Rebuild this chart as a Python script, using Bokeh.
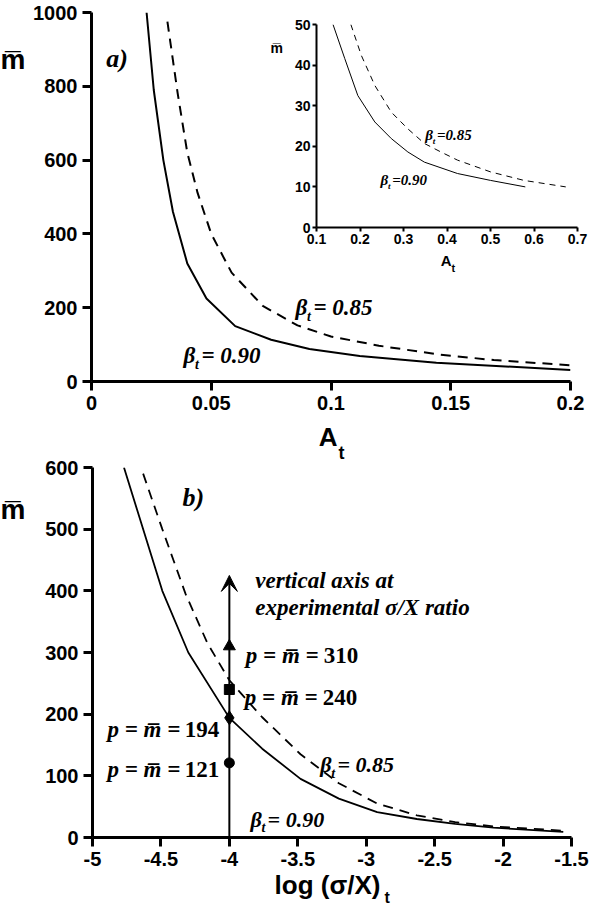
from bokeh.plotting import figure
from bokeh.models import (Range1d, FixedTicker, Label, Arrow, VeeHead, GridBox,
                          ColumnDataSource)
from bokeh.embed import file_html
from bokeh.resources import INLINE

# ---------------- data ----------------
# panel a) main: m-bar vs A_t
a_solid_A = [0.023, 0.026, 0.030, 0.034, 0.040, 0.048, 0.060, 0.075, 0.091, 0.112, 0.144, 0.2]
a_solid_m = [1000, 790, 600, 460, 320, 225, 150, 113, 88, 69, 51, 31]
a_dash_A = [0.0317, 0.036, 0.040, 0.0443, 0.05, 0.0585, 0.0715, 0.086, 0.10, 0.12, 0.144, 0.168, 0.2]
a_dash_m = [975, 780, 620, 511, 400, 295, 205, 152, 122, 97, 74, 58, 44]
a_xticks = [0, 0.05, 0.1, 0.15, 0.2]
a_xlabels = ["0", "0.05", "0.1", "0.15", "0.2"]
a_yticks = [0, 200, 400, 600, 800, 1000]

# panel a) inset
in_solid_A = [0.138, 0.165, 0.195, 0.234, 0.272, 0.31, 0.348, 0.424, 0.5, 0.58]
in_solid_m = [50, 41.6, 32.5, 26, 21.9, 18.6, 16.1, 13.3, 11.6, 10]
in_dash_A = [0.179, 0.203, 0.234, 0.272, 0.31, 0.348, 0.386, 0.424, 0.5, 0.577, 0.673]
in_dash_m = [50, 42.4, 35, 28.4, 24.3, 20.7, 18.6, 16.6, 13.7, 11.6, 10]
in_xticks = [0.1, 0.2, 0.3, 0.4, 0.5, 0.6, 0.7]
in_yticks = [0, 10, 20, 30, 40, 50]

# panel b): m-bar vs log(sigma/X)_t
b_solid_x = [-4.77, -4.49, -4.30, -4.0, -3.76, -3.48, -3.2, -2.92, -2.63, -2.35, -2.07, -1.56]
b_solid_m = [600, 400, 300, 194, 144, 95, 63, 41, 30, 22, 16, 9]
b_dash_x = [-4.63, -4.49, -4.32, -4.16, -4.0, -3.76, -3.48, -3.2, -2.92, -2.63, -2.35, -2.07, -1.56]
b_dash_m = [590, 500, 395, 315, 255, 195, 135, 88, 55, 36, 25, 18, 11]
b_xticks = [-5, -4.5, -4, -3.5, -3, -2.5, -2, -1.5]
b_xlabels = ["-5", "-4.5", "-4", "-3.5", "-3", "-2.5", "-2", "-1.5"]
b_yticks = [0, 100, 200, 300, 400, 500, 600]

exp_x = -4.0
exp_m = [121, 194, 240, 310]
exp_marker = ["circle", "diamond", "square", "triangle"]
exp_size = [10, 14, 10, 12]
arrow_top = 425

SANS = "Liberation Sans"
SERIF = "Liberation Serif"
MBAR = "m\u0305"


def style_axes(p, lw, tick_out, size, standoff):
    for ax in (p.xaxis[0], p.yaxis[0]):
        ax.axis_line_width = lw
        ax.axis_line_color = "black"
        ax.major_tick_line_width = lw
        ax.major_tick_line_color = "black"
        ax.major_tick_out = tick_out
        ax.major_tick_in = 0
        ax.minor_tick_line_color = None
        ax.major_label_text_font = SANS
        ax.major_label_text_font_style = "bold"
        ax.major_label_text_font_size = f"{size}px"
        ax.major_label_text_color = "black"
        ax.major_label_standoff = standoff
    p.xgrid.visible = False
    p.ygrid.visible = False
    p.outline_line_color = None


def lab(p, x, y, text, size, font=SERIF, style="bold italic", align="left", xo=0, yo=0):
    p.add_layout(Label(x=x, y=y, text=text, text_font=font, text_font_style=style,
                       text_font_size=f"{size}px", text_align=align, text_baseline="alphabetic",
                       x_offset=xo, y_offset=yo, text_color="black"))


def beta_lab(p, x, y, val, size, spaced=True):
    lab(p, x, y, "\u03b2", size)
    lab(p, x, y, "t", round(size * 0.62), xo=size * 0.5, yo=-size * 0.38)
    txt = f"= {val}" if spaced else f"={val}"
    lab(p, x, y, txt, size, xo=size * 0.78)


# ---------------- panel a) main ----------------
pa = figure(width=590, height=455, output_backend="svg", toolbar_location=None,
            x_range=Range1d(0, 0.2), y_range=Range1d(0, 1000), frame_align=False,
            min_border_left=91, min_border_right=20, min_border_top=12, min_border_bottom=74)
pa.line(a_solid_A, a_solid_m, line_color="black", line_width=2)
pa.line(a_dash_A, a_dash_m, line_color="black", line_width=2, line_dash="10 7")
pa.xaxis.ticker = FixedTicker(ticks=a_xticks)
pa.yaxis.ticker = FixedTicker(ticks=a_yticks)
pa.xaxis.major_label_overrides = dict(zip(a_xticks, a_xlabels))
style_axes(pa, 3, 9, 20, 5)
lab(pa, 0.0062, 875, "a)", 26)
beta_lab(pa, 0.0852, 200, "0.85", 23)
beta_lab(pa, 0.0384, 70, "0.90", 23)

# ---------------- panel a) inset ----------------
pi = figure(width=328, height=270, output_backend="svg", toolbar_location=None,
            x_range=Range1d(0.1, 0.7), y_range=Range1d(0, 50), frame_align=False,
            min_border_left=54, min_border_right=13, min_border_top=14, min_border_bottom=53,
            background_fill_alpha=0, border_fill_alpha=0)
pi.line(in_solid_A, in_solid_m, line_color="black", line_width=1)
pi.line(in_dash_A, in_dash_m, line_color="black", line_width=1, line_dash="6 5")
pi.xaxis.ticker = FixedTicker(ticks=in_xticks)
pi.yaxis.ticker = FixedTicker(ticks=in_yticks)
style_axes(pi, 2, 4, 14, 2)
beta_lab(pi, 0.35, 22.7, "0.85", 15, spaced=False)
beta_lab(pi, 0.247, 11.6, "0.90", 15, spaced=False)

# ---------------- panel b) ----------------
pb = figure(width=590, height=452, output_backend="svg", toolbar_location=None,
            x_range=Range1d(-5, -1.5), y_range=Range1d(0, 600), frame_align=False,
            min_border_left=92, min_border_right=19, min_border_top=12, min_border_bottom=70)
pb.line(b_solid_x, b_solid_m, line_color="black", line_width=1.8)
pb.line(b_dash_x, b_dash_m, line_color="black", line_width=1.8, line_dash="10 7")
pb.xaxis.ticker = FixedTicker(ticks=b_xticks)
pb.yaxis.ticker = FixedTicker(ticks=b_yticks)
pb.xaxis.major_label_overrides = dict(zip(b_xticks, b_xlabels))
style_axes(pb, 3, 9, 20, 5)

pb.add_layout(Arrow(end=VeeHead(size=16, fill_color="black", line_color="black", line_width=1),
                    x_start=exp_x, y_start=0, x_end=exp_x, y_end=arrow_top,
                    line_width=2, line_color="black"))
src = ColumnDataSource(dict(x=[exp_x] * len(exp_m), y=exp_m, marker=exp_marker, size=exp_size))
pb.scatter(x="x", y="y", marker="marker", size="size", source=src,
           fill_color="black", line_color="black")

lab(pb, -4.343, 551, "b)", 26)
lab(pb, -3.81, 417, "vertical axis at", 23)
lab(pb, -3.81, 373, "experimental \u03c3/X ratio", 23)

# p = m = value labels
lab(pb, -3.88, 295, f"p = {MBAR} =", 23)
lab(pb, -3.88, 295, str(exp_m[3]), 23, style="bold", xo=78)
lab(pb, -3.887, 227, f"p = {MBAR} =", 23)
lab(pb, -3.887, 227, str(exp_m[2]), 23, style="bold", xo=78)
lab(pb, -4.073, 175, str(exp_m[1]), 23, style="bold", align="right")
lab(pb, -4.073, 175, f"p = {MBAR} =", 23, align="right", xo=-39)
lab(pb, -4.073, 110, str(exp_m[0]), 23, style="bold", align="right")
lab(pb, -4.073, 110, f"p = {MBAR} =", 23, align="right", xo=-39)

beta_lab(pb, -3.336, 118, "0.85", 22)
beta_lab(pb, -3.846, 29, "0.90", 22)

# ---------------- overlay for axis titles (page pixel coordinates) ----------------
po = figure(width=590, height=907, output_backend="svg", toolbar_location=None,
            x_range=Range1d(0, 590), y_range=Range1d(907, 0), min_border=0, frame_align=False,
            x_axis_location=None, y_axis_location=None,
            background_fill_alpha=0, border_fill_alpha=0, outline_line_color=None)
po.xgrid.visible = False
po.ygrid.visible = False
lab(po, 0, 59, MBAR, 28, font=SANS, style="bold")          # panel a y title
lab(po, 0, 509, MBAR, 28, font=SANS, style="bold")         # panel b y title
lab(po, 270, 47, MBAR, 14, font=SANS, style="bold")        # inset y title
lab(po, 337, 436, "A", 26, font=SANS, style="bold", align="right")
lab(po, 338, 452, "t", 18, font=SANS, style="bold")
lab(po, 451, 260, "A", 15, font=SANS, style="bold", align="right")
lab(po, 451, 267, "t", 11, font=SANS, style="bold")
lab(po, 380, 884, "log (\u03c3/X)", 26, font=SANS, style="bold", align="right")
lab(po, 384, 897, "t", 16, font=SANS, style="bold")

grid = GridBox(children=[(pa, 0, 0, 3, 2), (pi, 1, 1, 1, 1), (pb, 3, 0, 1, 2), (po, 0, 0, 4, 2)],
               rows=["10px", "270px", "175px", "452px"], cols=["262px", "328px"], spacing=0)

open("out.html", "w").write(file_html(grid, INLINE))
